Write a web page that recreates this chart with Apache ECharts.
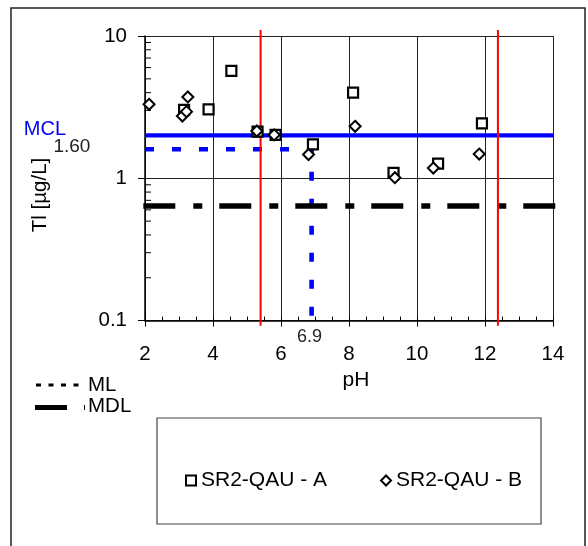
<!DOCTYPE html>
<html><head><meta charset="utf-8">
<script src="https://cdn.jsdelivr.net/npm/echarts@6/dist/echarts.min.js"></script>
<style>html,body{margin:0;padding:0;background:#fff}#c{width:588px;height:546px}</style>
</head><body><div id="c"></div>
<script>
// ---- data ----
const nameA = 'SR2-QAU - A';
const nameB = 'SR2-QAU - B';
const pHA = [3.15, 3.87, 4.54, 5.31, 5.84, 6.94, 8.12, 9.31, 10.62, 11.91];
const tlA = [3.03, 3.05, 5.68, 2.13, 2.02, 1.73, 4.00, 1.09, 1.27, 2.43];
const pHB = [2.12, 3.26, 3.10, 3.22, 5.29, 5.80, 6.81, 8.18, 9.35, 10.48, 11.83];
const tlB = [3.31, 3.73, 2.74, 2.94, 2.15, 2.02, 1.47, 2.32, 1.01, 1.18, 1.48];
const yMinorTicks = [0.2, 0.3, 0.4, 0.5, 0.6, 0.7, 0.8, 0.9, 2, 3, 4, 5, 6, 7, 8, 9];
const mclValue = 2;
const mlValue = 1.6;
const mlPH = 6.9;
const mdlValue = 0.64;
const redPH = [5.4, 12.38];
const xMin = 2, xMax = 14;
const yMin = 0.1, yMax = 10;
const redTop = 11, redBottom = 0.092;
const mlBottom = 0.096;

const FONT = '"Liberation Sans", Arial, sans-serif';
const chart = echarts.init(document.getElementById('c'), null, {renderer: 'canvas'});

const option = {
  animation: false,
  backgroundColor: '#fff',
  textStyle: {fontFamily: FONT},
  grid: {left: 145, top: 36, width: 408, height: 284.6, show: false},
  legend: {
    data: [nameA, nameB], left: 180, top: 465, itemWidth: 10, itemHeight: 10, itemGap: 53,
    textStyle: {fontSize: 21, color: '#000', fontFamily: FONT}, selectedMode: false
  },
  xAxis: [{
    type: 'value', min: xMin, max: xMax, interval: 2, position: 'bottom',
    axisLine: {show: true, onZero: false, lineStyle: {color: '#000', width: 1.5}},
    axisTick: {show: true, inside: false, length: 6, lineStyle: {color: '#000', width: 1}},
    axisLabel: {fontSize: 20.5, color: '#000', margin: 23, fontFamily: FONT},
    splitLine: {show: true, lineStyle: {color: '#222', width: 1}},
    name: 'pH', nameLocation: 'middle', nameGap: 47,
    nameTextStyle: {fontSize: 21, color: '#000', fontFamily: FONT, padding: [0, 0, 0, 14]}
  }, {
    type: 'value', min: xMin, max: xMax, interval: 0.5, position: 'bottom', gridIndex: 0,
    axisLine: {show: false, onZero: false},
    axisTick: {show: true, inside: true, length: 4, lineStyle: {color: '#000', width: 1}},
    axisLabel: {show: false}, splitLine: {show: false}
  }],
  yAxis: [{
    type: 'log', logBase: 10, min: yMin, max: yMax,
    axisLine: {show: true, onZero: false, lineStyle: {color: '#000', width: 1.5}},
    axisTick: {show: true, inside: false, length: 7, lineStyle: {color: '#000', width: 1}},
    axisLabel: {fontSize: 20.5, color: '#000', margin: 18, fontFamily: FONT,
      formatter: v => (v < 1 ? v.toFixed(1) : String(Math.round(v)))},
    splitLine: {show: true, lineStyle: {color: '#222', width: 1}},
    minorTick: {show: false}
  }],
  series: [
    {
      type: 'custom', silent: true, z: 3, clip: false,
      data: yMinorTicks.map(v => [xMin, v]),
      renderItem: (params, api) => {
        const p = api.coord([api.value(0), api.value(1)]);
        return {type: 'line', shape: {x1: p[0], y1: p[1], x2: p[0] + 6, y2: p[1]},
          style: {stroke: '#000', lineWidth: 1}};
      }
    },
    {
      name: 'MCL', type: 'line', symbol: 'none', silent: true, clip: false, z: 4,
      data: [[xMin, mclValue], [xMax, mclValue]],
      lineStyle: {color: '#0000ff', width: 4.3, cap: 'butt'}
    },
    {
      name: 'ML', type: 'line', symbol: 'none', silent: true, clip: false, z: 4,
      data: [[xMin, mlValue], [mlPH, mlValue], [mlPH, mlBottom]],
      lineStyle: {color: '#0000ff', width: 4.6, type: [9, 18], cap: 'butt'}
    },
    {
      name: 'MDL', type: 'line', symbol: 'none', silent: true, clip: false, z: 4,
      data: [[xMin - 0.05, mdlValue], [xMax + 0.07, mdlValue]],
      lineStyle: {color: '#000', width: 5.5, type: [32, 18, 9, 17], cap: 'butt'}
    },
    {
      name: 'pH1', type: 'line', symbol: 'none', silent: true, clip: false, z: 5,
      data: [[redPH[0], redTop], [redPH[0], redBottom]],
      lineStyle: {color: '#ff0000', width: 2}
    },
    {
      name: 'pH2', type: 'line', symbol: 'none', silent: true, clip: false, z: 5,
      data: [[redPH[1], redTop], [redPH[1], redBottom]],
      lineStyle: {color: '#ff0000', width: 2}
    },
    {
      name: nameA, type: 'scatter', z: 10, symbol: 'rect', symbolSize: 10,
      data: pHA.map((x, i) => [x, tlA[i]]),
      itemStyle: {color: '#fff', borderColor: '#000', borderWidth: 2.2, opacity: 1}
    },
    {
      name: nameB, type: 'scatter', z: 11, symbol: 'diamond', symbolSize: 11,
      data: pHB.map((x, i) => [x, tlB[i]]),
      itemStyle: {color: '#fff', borderColor: '#000', borderWidth: 2, opacity: 1}
    }
  ]
};
chart.setOption(option);

const pMCL = chart.convertToPixel({gridIndex: 0}, [xMin, mclValue]);
const pML = chart.convertToPixel({gridIndex: 0}, [xMin, mlValue]);
const pPH = chart.convertToPixel({gridIndex: 0}, [mlPH, yMin]);

chart.setOption({
  graphic: [
    {type: 'rect', z: -10, silent: true, shape: {x: 11, y: 8, width: 574, height: 560},
      style: {fill: 'none', stroke: '#222', lineWidth: 1.5}},
    {type: 'rect', z: 1, silent: true, shape: {x: 157, y: 418, width: 384, height: 106},
      style: {fill: 'none', stroke: '#444', lineWidth: 1.2}},
    {type: 'text', silent: true, x: pMCL[0] - 79, y: pMCL[1] - 5.7,
      style: {text: 'MCL', fill: '#0000ff', font: '20px ' + FONT, align: 'right', verticalAlign: 'middle'}},
    {type: 'text', silent: true, x: pML[0] - 54.6, y: pML[1] - 2,
      style: {text: mlValue.toFixed(2), fill: '#222', font: '19px ' + FONT, align: 'right', verticalAlign: 'middle'}},
    {type: 'text', silent: true, x: pPH[0] - 2, y: pPH[1] + 16,
      style: {text: String(mlPH), fill: '#222', font: '18px ' + FONT, align: 'center', verticalAlign: 'middle'}},
    {type: 'text', silent: true, x: 40, y: 195, rotation: Math.PI / 2,
      style: {text: 'Tl [µg/L]', fill: '#000', font: '20.5px ' + FONT, align: 'center', verticalAlign: 'middle'}},
    {type: 'line', silent: true, shape: {x1: 36, y1: 385, x2: 82, y2: 385},
      style: {stroke: '#000', lineWidth: 3, lineDash: [5, 7.5]}},
    {type: 'text', silent: true, x: 88, y: 385.5,
      style: {text: 'ML', fill: '#000', font: '20.5px ' + FONT, align: 'left', verticalAlign: 'middle'}},
    {type: 'line', silent: true, shape: {x1: 35, y1: 407.5, x2: 67, y2: 407.5},
      style: {stroke: '#000', lineWidth: 5}},
    {type: 'line', silent: true, shape: {x1: 84.5, y1: 405, x2: 84.5, y2: 410},
      style: {stroke: '#000', lineWidth: 1}},
    {type: 'text', silent: true, x: 88, y: 406.5,
      style: {text: 'MDL', fill: '#000', font: '20.5px ' + FONT, align: 'left', verticalAlign: 'middle'}}
  ]
});
</script></body></html>
